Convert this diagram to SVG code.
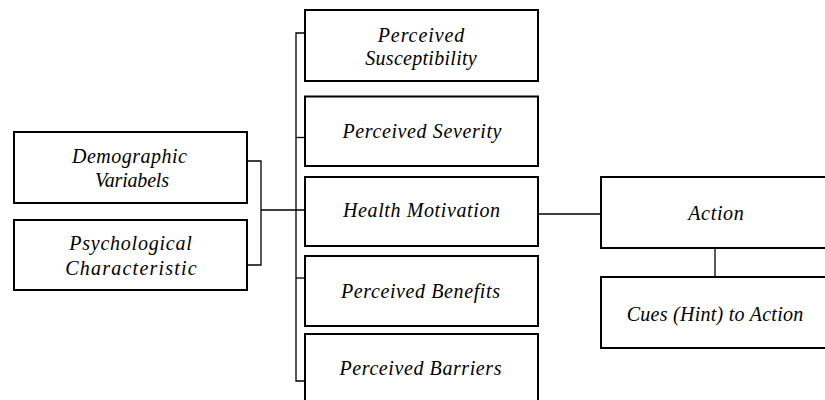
<svg xmlns="http://www.w3.org/2000/svg" width="825" height="400" viewBox="0 0 825 400">
<style>
.box{fill:#fff;stroke:#000;stroke-width:2}
.t{font-family:"Liberation Serif","Times New Roman",serif;font-style:italic;font-size:20px;fill:#000;text-anchor:middle}
.c{fill:none;stroke:#000;stroke-width:1.3}
</style>
<rect width="825" height="400" fill="#fff"/>
<g id="connectors">
<path class="c" d="M247 161 H261 V265 H247"/>
<path class="c" d="M261 210 H305"/>
<path class="c" d="M305 33 H296 V381 H305"/>
<path class="c" d="M296 137.5 H305"/>
<path class="c" d="M296 278 H305"/>
<path class="c" d="M538 214 H601"/>
<path class="c" d="M715 248 V277"/>
</g>
<g id="demographic"><rect class="box" x="14" y="132" width="233" height="71"/><text class="t" x="129.5" y="163" textLength="115" lengthAdjust="spacing">Demographic</text><text class="t" x="132" y="187" textLength="74" lengthAdjust="spacing">Variabels</text></g>
<g id="psychological"><rect class="box" x="14" y="220" width="233" height="70"/><text class="t" x="130.5" y="250" textLength="122.5" lengthAdjust="spacing">Psychological</text><text class="t" x="131" y="275" textLength="131.5" lengthAdjust="spacing">Characteristic</text></g>
<g id="susceptibility"><rect class="box" x="305" y="10" width="233" height="71"/><text class="t" x="421" y="42" textLength="86.5" lengthAdjust="spacing">Perceived</text><text class="t" x="421" y="65" textLength="111.5" lengthAdjust="spacing">Susceptibility</text></g>
<g id="severity"><rect class="box" x="305" y="96.5" width="233" height="69.5"/><text class="t" x="422" y="138" textLength="159" lengthAdjust="spacing">Perceived Severity</text></g>
<g id="motivation"><rect class="box" x="305" y="177" width="233" height="69"/><text class="t" x="421.5" y="217" textLength="157" lengthAdjust="spacing">Health Motivation</text></g>
<g id="benefits"><rect class="box" x="305" y="256" width="233" height="70"/><text class="t" x="420.5" y="298" textLength="159" lengthAdjust="spacing">Perceived Benefits</text></g>
<g id="barriers"><rect class="box" x="305" y="334" width="233" height="72"/><text class="t" x="420.5" y="375" textLength="162" lengthAdjust="spacing">Perceived Barriers</text></g>
<g id="action"><rect class="box" x="601" y="177" width="232" height="71"/><text class="t" x="716" y="220" textLength="55.5" lengthAdjust="spacing">Action</text></g>
<g id="cues"><rect class="box" x="601" y="277" width="232" height="71"/><text class="t" x="715" y="321" textLength="176.5" lengthAdjust="spacing">Cues (Hint) to Action</text></g>
</svg>
